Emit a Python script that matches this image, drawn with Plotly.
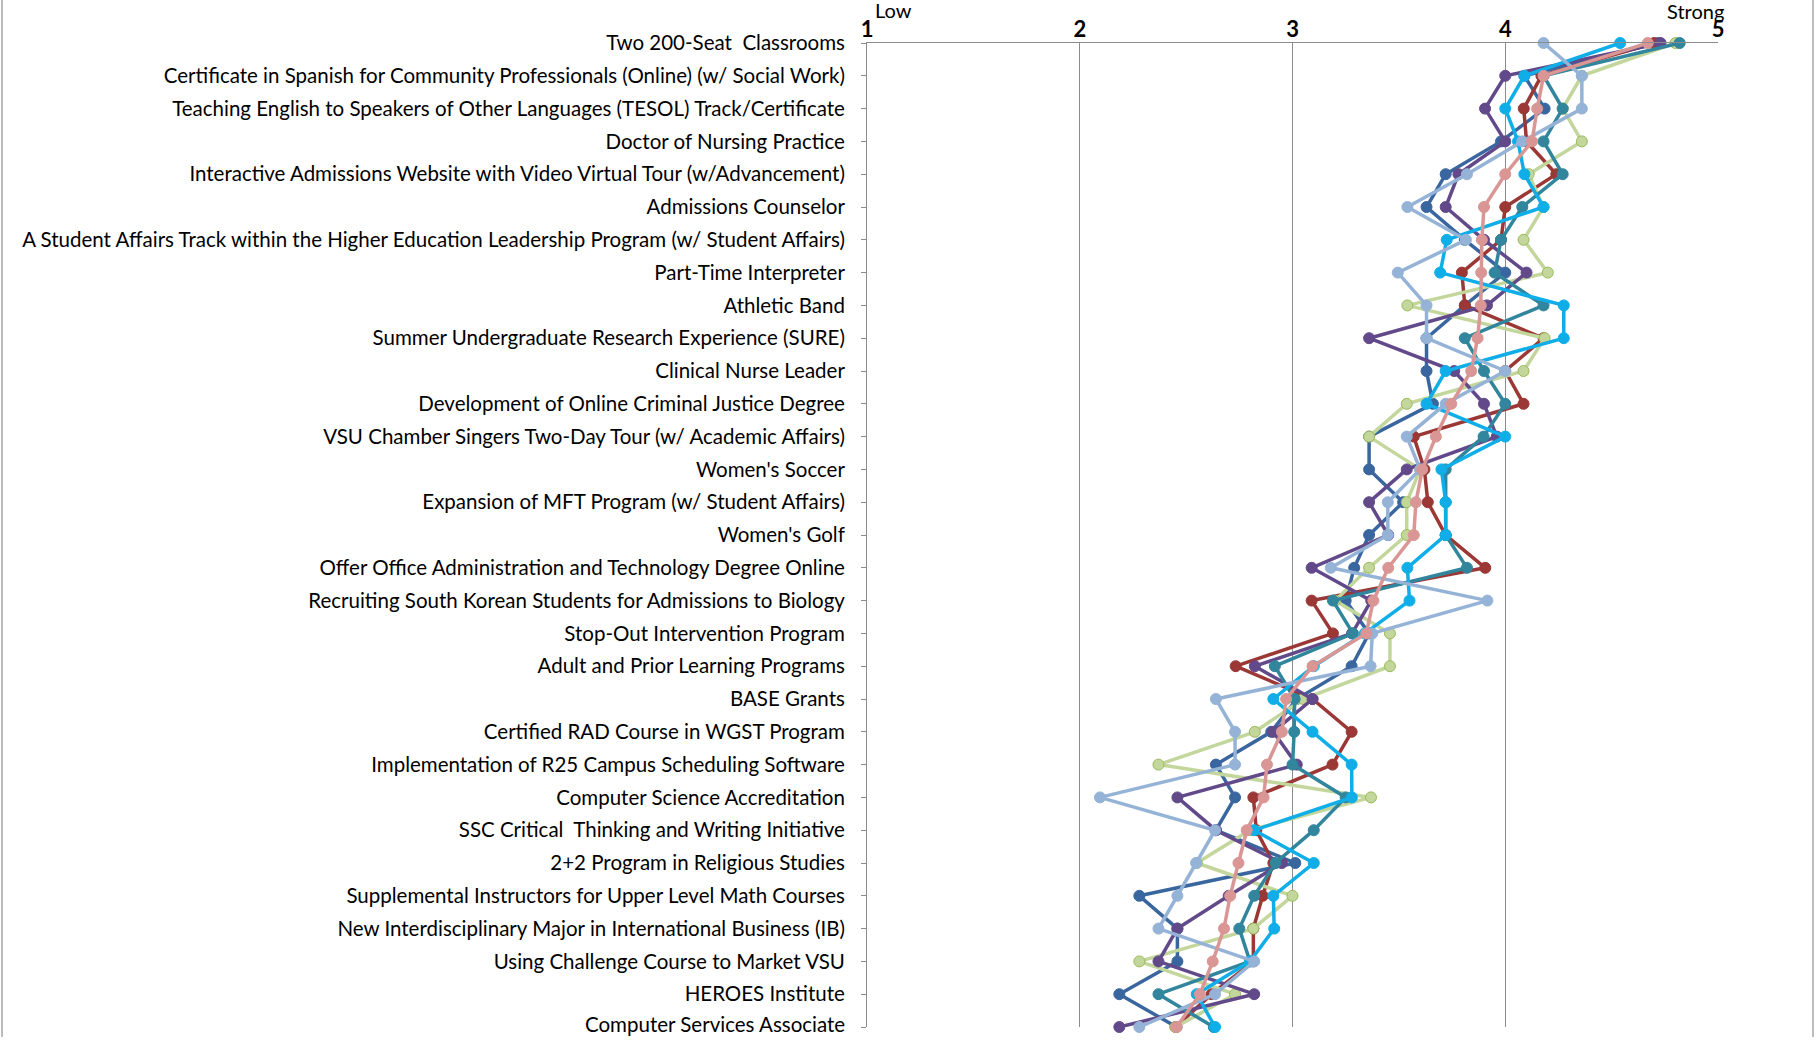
import plotly.graph_objects as go

categories = [
    "Two 200-Seat  Classrooms",
    "Certificate in Spanish for Community Professionals (Online) (w/ Social Work)",
    "Teaching English to Speakers of Other Languages (TESOL) Track/Certificate",
    "Doctor of Nursing Practice",
    "Interactive Admissions Website with Video Virtual Tour (w/Advancement)",
    "Admissions Counselor",
    "A Student Affairs Track within the Higher Education Leadership Program (w/ Student Affairs)",
    "Part-Time Interpreter",
    "Athletic Band",
    "Summer Undergraduate Research Experience (SURE)",
    "Clinical Nurse Leader",
    "Development of Online Criminal Justice Degree",
    "VSU Chamber Singers Two-Day Tour (w/ Academic Affairs)",
    "Women's Soccer",
    "Expansion of MFT Program (w/ Student Affairs)",
    "Women's Golf",
    "Offer Office Administration and Technology Degree Online",
    "Recruiting South Korean Students for Admissions to Biology",
    "Stop-Out Intervention Program",
    "Adult and Prior Learning Programs",
    "BASE Grants",
    "Certified RAD Course in WGST Program",
    "Implementation of R25 Campus Scheduling Software",
    "Computer Science Accreditation",
    "SSC Critical  Thinking and Writing Initiative",
    "2+2 Program in Religious Studies",
    "Supplemental Instructors for Upper Level Math Courses",
    "New Interdisciplinary Major in International Business (IB)",
    "Using Challenge Course to Market VSU",
    "HEROES Institute",
    "Computer Services Associate",
]

x_ticks = [1, 2, 3, 4, 5]

dark_blue = [4.72, 4.09, 4.185, 3.98, 3.72, 3.63, 3.81, 4.00, 3.81, 3.63,
             3.63, 3.66, 3.36, 3.36, 3.52, 3.36, 3.29, 3.25, 3.36, 3.278,
             3.02, 2.90, 2.64, 2.73, 2.64, 3.013, 2.28, 2.459, 2.459, 2.186, 2.455]
dark_red = [4.70, 4.17, 4.087, 4.10, 4.24, 4.00, 3.98, 3.796, 3.81, 4.18,
            4.00, 4.086, 3.57, 3.62, 3.636, 3.72, 3.906, 3.09, 3.19, 2.733,
            3.094, 3.278, 3.188, 2.816, 2.83, 2.91, 2.86, 2.816, 2.816, 2.62, 2.45]
green = [4.80, 4.36, 4.27, 4.36, 4.11, 4.18, 4.086, 4.20, 3.54, 4.185,
         4.086, 3.537, 3.36, 3.60, 3.537, 3.537, 3.36, 3.20, 3.458, 3.458,
         3.05, 2.823, 2.37, 3.369, 2.80, 2.55, 3.00, 2.816, 2.28, 2.73, 2.45]
purple = [4.73, 4.00, 3.905, 4.00, 3.78, 3.72, 3.90, 4.10, 3.914, 3.36,
          3.76, 3.90, 3.96, 3.537, 3.36, 3.45, 3.09, 3.37, 3.28, 2.823,
          3.094, 2.91, 3.02, 2.459, 2.64, 2.95, 2.70, 2.459, 2.37, 2.82, 2.186]
teal = [4.82, 4.18, 4.27, 4.18, 4.27, 4.08, 3.98, 3.95, 4.18, 3.81,
        3.90, 4.00, 3.898, 3.72, 3.72, 3.72, 3.82, 3.19, 3.284, 2.917,
        3.01, 3.008, 3.00, 3.25, 3.10, 2.92, 2.82, 2.75, 2.80, 2.37, 2.63]
cyan = [4.54, 4.09, 4.00, 4.06, 4.09, 4.18, 3.725, 3.694, 4.275, 4.275,
        3.72, 3.63, 4.00, 3.70, 3.72, 3.72, 3.54, 3.55, 3.34, 3.10,
        2.91, 3.094, 3.278, 3.279, 2.82, 3.10, 2.91, 2.914, 2.80, 2.55, 2.636]
light_blue = [4.18, 4.36, 4.36, 4.08, 3.82, 3.54, 3.815, 3.495, 3.63, 3.63,
              4.00, 3.72, 3.537, 3.60, 3.448, 3.448, 3.18, 3.916, 3.375, 3.367,
              2.64, 2.73, 2.73, 2.095, 2.636, 2.547, 2.459, 2.37, 2.82, 2.636, 2.28]
pink = [4.67, 4.18, 4.15, 4.126, 4.00, 3.90, 3.89, 3.887, 3.885, 3.87,
        3.84, 3.746, 3.674, 3.61, 3.58, 3.57, 3.45, 3.38, 3.347, 3.094,
        2.97, 2.95, 2.88, 2.864, 2.785, 2.746, 2.707, 2.678, 2.625, 2.565, 2.455]

series = [
    ("Series 1", dark_blue, "#3A66A0", "#3A66A0"),
    ("Series 2", dark_red, "#9B3835", "#9B3835"),
    ("Series 3", green, "#C3D69B", "#9BBB59"),
    ("Series 4", purple, "#62498A", "#62498A"),
    ("Series 5", teal, "#31859C", "#31859C"),
    ("Series 6", cyan, "#0FAEE8", "#0FAEE8"),
    ("Series 7", light_blue, "#95B3D7", "#95B3D7"),
    ("Series 8", pink, "#D99694", "#D99694"),
]

rows = list(range(len(categories)))

fig = go.Figure()
for name, vals, col, edge in series:
    fig.add_trace(go.Scatter(
        x=vals, y=rows, name=name, mode="lines+markers",
        line=dict(color=col, width=3.5),
        marker=dict(size=11, color=col, line=dict(color=edge, width=1)),
        cliponaxis=False, showlegend=False,
    ))

W, H = 1816, 1037
ml, mr, mt, mb = 867, 98, 43, 10
LABEL_SIZE = 20.5

# the bottom row label sits at the very edge of the figure, so it is drawn
# as an annotation (plotly would hide it as a tick label)
tick_text = categories[:-1] + [""]

fig.update_layout(
    width=W, height=H,
    margin=dict(l=ml, r=mr, t=mt, b=mb),
    paper_bgcolor="white", plot_bgcolor="white",
    font=dict(family="Lato, Liberation Sans, sans-serif", color="#000000"),
    showlegend=False,
)
fig.update_xaxes(
    range=[1, 5], side="top", tickvals=x_ticks,
    ticktext=["<b>%d</b>" % v for v in x_ticks],
    tickfont=dict(size=22, color="#000000"),
    showgrid=True, gridcolor="#8C8C8C", gridwidth=1,
    showline=True, linecolor="#8C8C8C", linewidth=1,
    ticks="", zeroline=False, fixedrange=True,
    ticklabelstandoff=-4,
)
fig.update_yaxes(
    range=[len(categories) - 1, 0], tickvals=rows, ticktext=tick_text,
    tickfont=dict(size=LABEL_SIZE, color="#000000"),
    showgrid=False, zeroline=False,
    showline=True, linecolor="#8C8C8C", linewidth=1,
    ticks="outside", ticklen=5, tickcolor="#8C8C8C",
    ticklabelstandoff=12,
)

pw = W - ml - mr
ph = H - mt - mb
def px_x(p):
    return (p - ml) / pw
def px_y(p):
    return (H - mb - p) / ph

fig.add_annotation(text=categories[-1], xref="paper", yref="paper",
                   x=px_x(846), y=px_y(H), xanchor="right", yanchor="bottom",
                   showarrow=False, borderpad=0,
                   font=dict(size=LABEL_SIZE, color="#000000"))

fig.add_annotation(text="Low", xref="paper", yref="paper",
                   x=px_x(873), y=px_y(10), xanchor="left", yanchor="middle",
                   showarrow=False, font=dict(size=20, color="#000000"))
fig.add_annotation(text="Strong", xref="paper", yref="paper",
                   x=px_x(1726), y=px_y(11), xanchor="right", yanchor="middle",
                   showarrow=False, font=dict(size=20, color="#000000"))

for bx in (2, 1813):
    fig.add_shape(type="line", xref="paper", yref="paper",
                  x0=px_x(bx), x1=px_x(bx), y0=px_y(0), y1=px_y(H),
                  line=dict(color="#A6A6A6", width=1.5))

fig.write_html("out.html",
               config={"displayModeBar": False},
               post_script="document.body.style.margin='0px';"
                           "document.body.style.overflow='hidden';")
